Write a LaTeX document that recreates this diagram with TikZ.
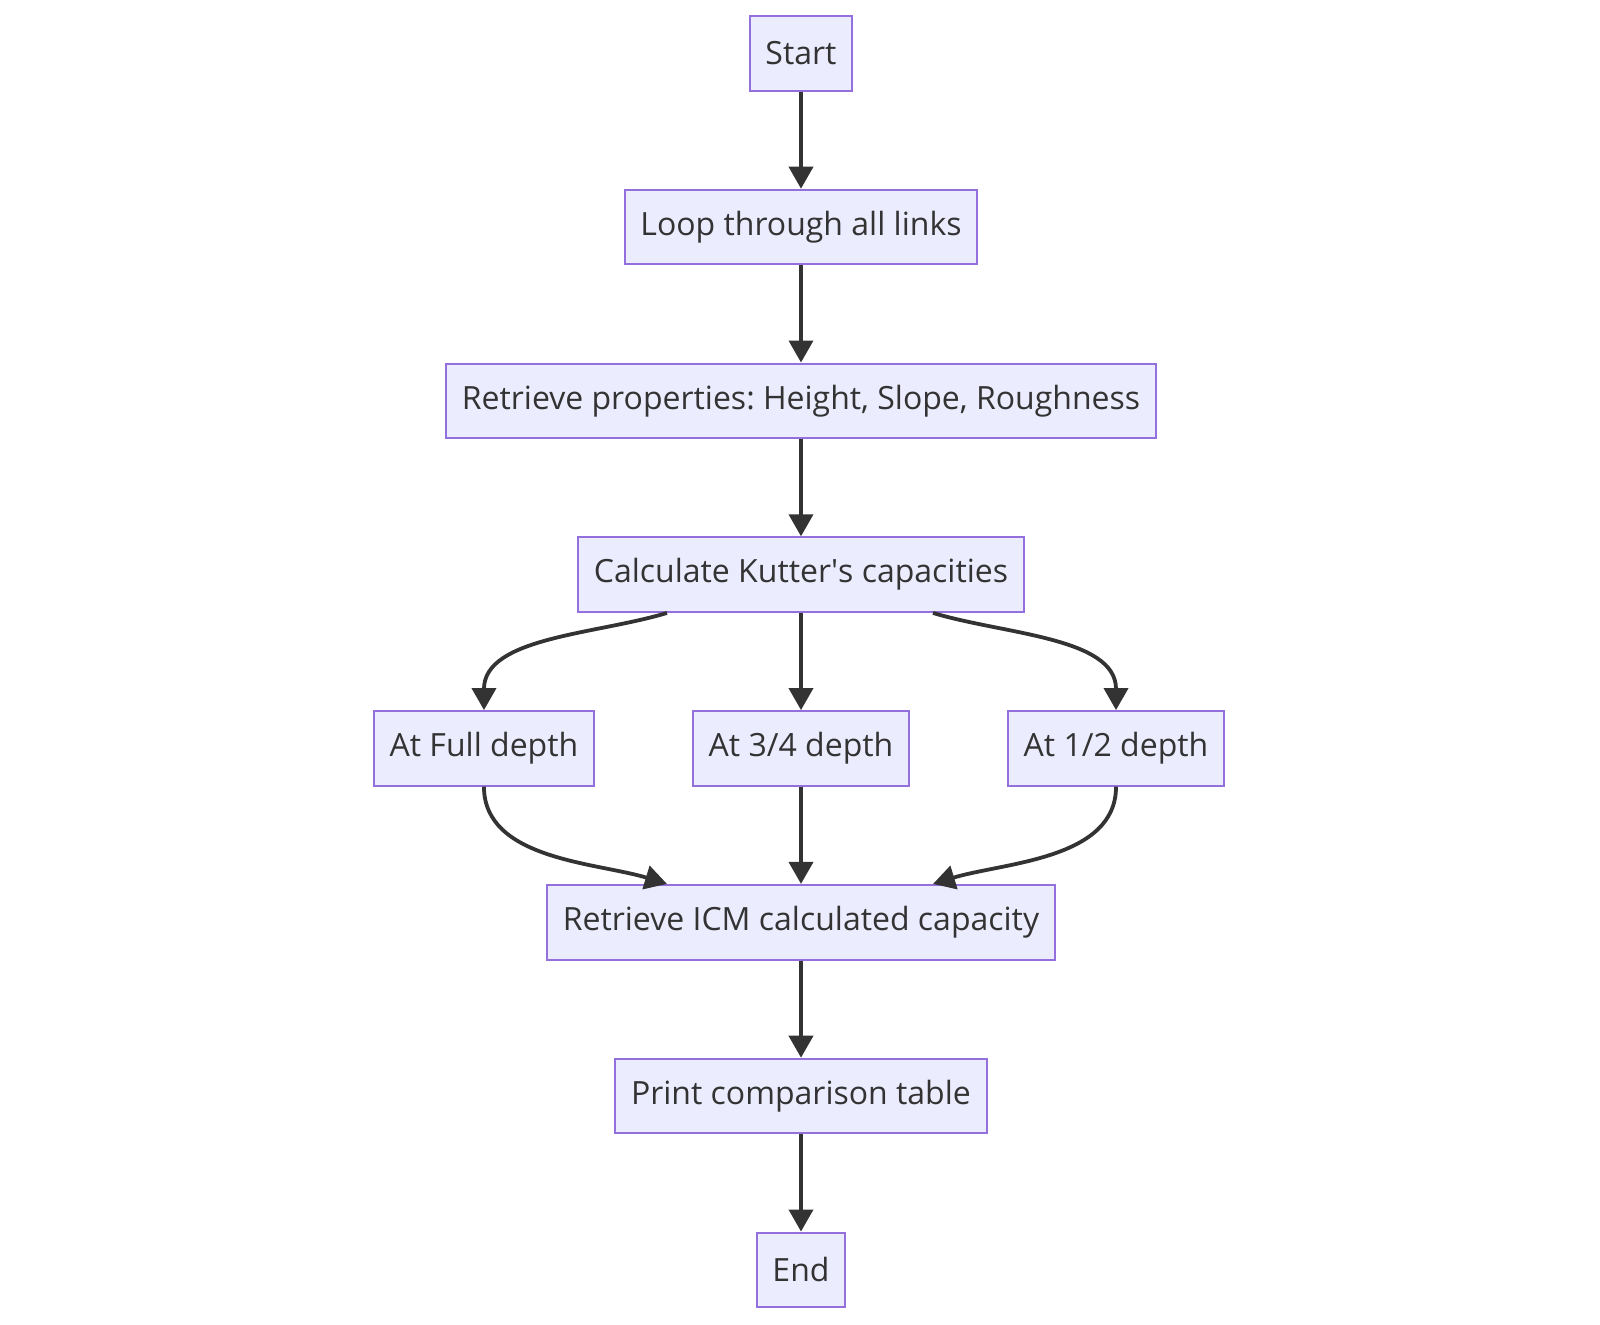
\documentclass[tikz,border=0pt]{standalone}
\usepackage{fontspec}
\setmainfont{Open Sans}
\usepackage{xcolor}
\usepackage{tikz}
\usetikzlibrary{arrows.meta,positioning}
\definecolor{NodeFill}{HTML}{ECECFF}
\definecolor{NodeLine}{HTML}{9370DB}
\definecolor{Ink}{HTML}{333333}
\frenchspacing

\begin{document}
\begin{tikzpicture}[
  stepbox/.style={draw=NodeLine, line width=1pt, fill=NodeFill, text=Ink,
    font=\fontsize{16pt}{19pt}\selectfont, minimum height=37.3pt, inner xsep=7.8pt},
  flow/.style={-{Triangle[length=11pt,width=12pt]}, line width=1.9pt, draw=Ink},
  node distance=48.6pt
]
  \node[stepbox] (start) {Start};
  \node[stepbox, below=of start] (loop) {Loop through all links};
  \node[stepbox, below=of loop] (props) {Retrieve properties: Height, Slope, Roughness};
  \node[stepbox, below=of props] (calc) {Calculate Kutter\textquotesingle s capacities};
  \node[stepbox, below=of calc] (mid) {At 3/4 depth};
  \node[stepbox, left=of mid] (full) {At Full depth};
  \node[stepbox, right=of mid] (half) {At 1/2 depth};
  \node[stepbox, below=of mid] (icm) {Retrieve ICM calculated capacity};
  \node[stepbox, below=of icm] (print) {Print comparison table};
  \node[stepbox, below=of print] (end) {End};

  \useasboundingbox ([shift={(-400.5pt,26.6pt)}]start.center) rectangle ++(800pt,-662pt);

  \draw[flow] (start) -- (loop);
  \draw[flow] (loop) -- (props);
  \draw[flow] (props) -- (calc);
  \draw[flow] ([xshift=-67pt]calc.south) to[out=-163, in=90, looseness=0.9] (full.north);
  \draw[flow] (calc) -- (mid);
  \draw[flow] ([xshift=66pt]calc.south) to[out=-17, in=90, looseness=0.9] (half.north);
  \draw[flow] (full.south) to[out=-90, in=163, looseness=0.9] ([xshift=-67pt]icm.north);
  \draw[flow] (mid) -- (icm);
  \draw[flow] (half.south) to[out=-90, in=17, looseness=0.9] ([xshift=66pt]icm.north);
  \draw[flow] (icm) -- (print);
  \draw[flow] (print) -- (end);
\end{tikzpicture}
\end{document}
